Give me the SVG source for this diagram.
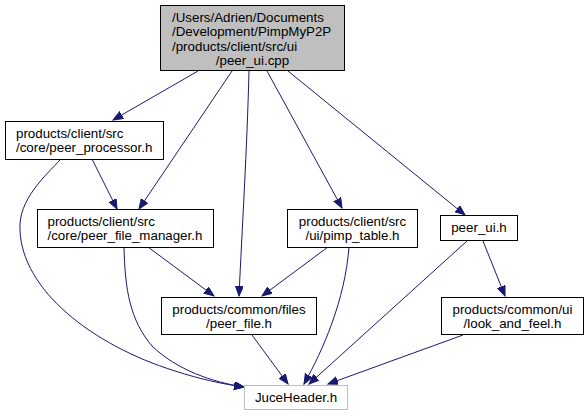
<svg xmlns="http://www.w3.org/2000/svg" width="588" height="416" viewBox="0 0 588 416">
<defs>
<marker id="ah" markerUnits="userSpaceOnUse" markerWidth="12" markerHeight="10" refX="10" refY="4" orient="auto">
<path d="M0,0 L10,4 L0,8 z" fill="#191970" stroke="#191970" stroke-width="1"/>
</marker>
<style>
.n{fill:#ffffff;stroke:#000000;stroke-width:1}
.r{fill:#bfbfbf;stroke:#000000;stroke-width:1}
.g{fill:#ffffff;stroke:#bfbfbf;stroke-width:1}
text{font-family:"Liberation Sans",Arial,Helvetica,sans-serif;font-size:13.33px;fill:#000000}
.c{text-anchor:middle}
.e path{fill:none;stroke:#191970;stroke-width:1;marker-end:url(#ah)}
</style>
</defs>
<rect width="588" height="416" fill="#ffffff"/>
<g class="e" id="edges">
<path d="M198,71 L113,120"/>
<path d="M232,71 L139,209"/>
<path d="M249,71 C247,150 242,230 239,296"/>
<path d="M267,71 L342,208"/>
<path d="M288,71 L465,215"/>
<path d="M92,159 L117,209"/>
<path d="M61,159 C45,176 18,200 20,230 C22,290 92,345 175,371 C200,379 222,384 244,387"/>
<path d="M148,247 L214,296"/>
<path d="M124,247 C125,290 130,320 152,346 C177,370 212,382 244,387"/>
<path d="M328,247 L262,296"/>
<path d="M349,247 C345,300 323,350 304,384"/>
<path d="M467,241 L309,384"/>
<path d="M483,241 L505,296"/>
<path d="M463,335 L328,384"/>
<path d="M252,335 L288,384"/>
</g>
<g id="root">
<rect class="r" x="160.5" y="5.5" width="184" height="65"/>
<text x="172" y="21.5">/Users/Adrien/Documents</text>
<text x="172" y="36">/Development/PimpMyP2P</text>
<text x="172" y="50.5">/products/client/src/ui</text>
<text class="c" x="252.5" y="65">/peer_ui.cpp</text>
</g>
<g id="peer_processor">
<rect class="n" x="5.5" y="121.5" width="158" height="38"/>
<text x="16" y="138">products/client/src</text>
<text x="16" y="151.5">/core/peer_processor.h</text>
</g>
<g id="peer_file_manager">
<rect class="n" x="37.5" y="209.5" width="176" height="38"/>
<text x="47.5" y="226">products/client/src</text>
<text x="47.5" y="239.5">/core/peer_file_manager.h</text>
</g>
<g id="pimp_table">
<rect class="n" x="287.5" y="209.5" width="130" height="38"/>
<text class="c" x="352.5" y="226">products/client/src</text>
<text class="c" x="352.5" y="239.5">/ui/pimp_table.h</text>
</g>
<g id="peer_ui">
<rect class="n" x="440.5" y="215.5" width="77" height="25"/>
<text class="c" x="479" y="232">peer_ui.h</text>
</g>
<g id="peer_file">
<rect class="n" x="161.5" y="297.5" width="155" height="37"/>
<text class="c" x="239" y="314">products/common/files</text>
<text class="c" x="239" y="327.5">/peer_file.h</text>
</g>
<g id="look_and_feel">
<rect class="n" x="441.5" y="297.5" width="142" height="37"/>
<text class="c" x="512.5" y="314">products/common/ui</text>
<text class="c" x="512.5" y="327.5">/look_and_feel.h</text>
</g>
<g id="JuceHeader">
<rect class="g" x="244.5" y="385.5" width="103" height="24"/>
<text class="c" x="296" y="402">JuceHeader.h</text>
</g>
</svg>
